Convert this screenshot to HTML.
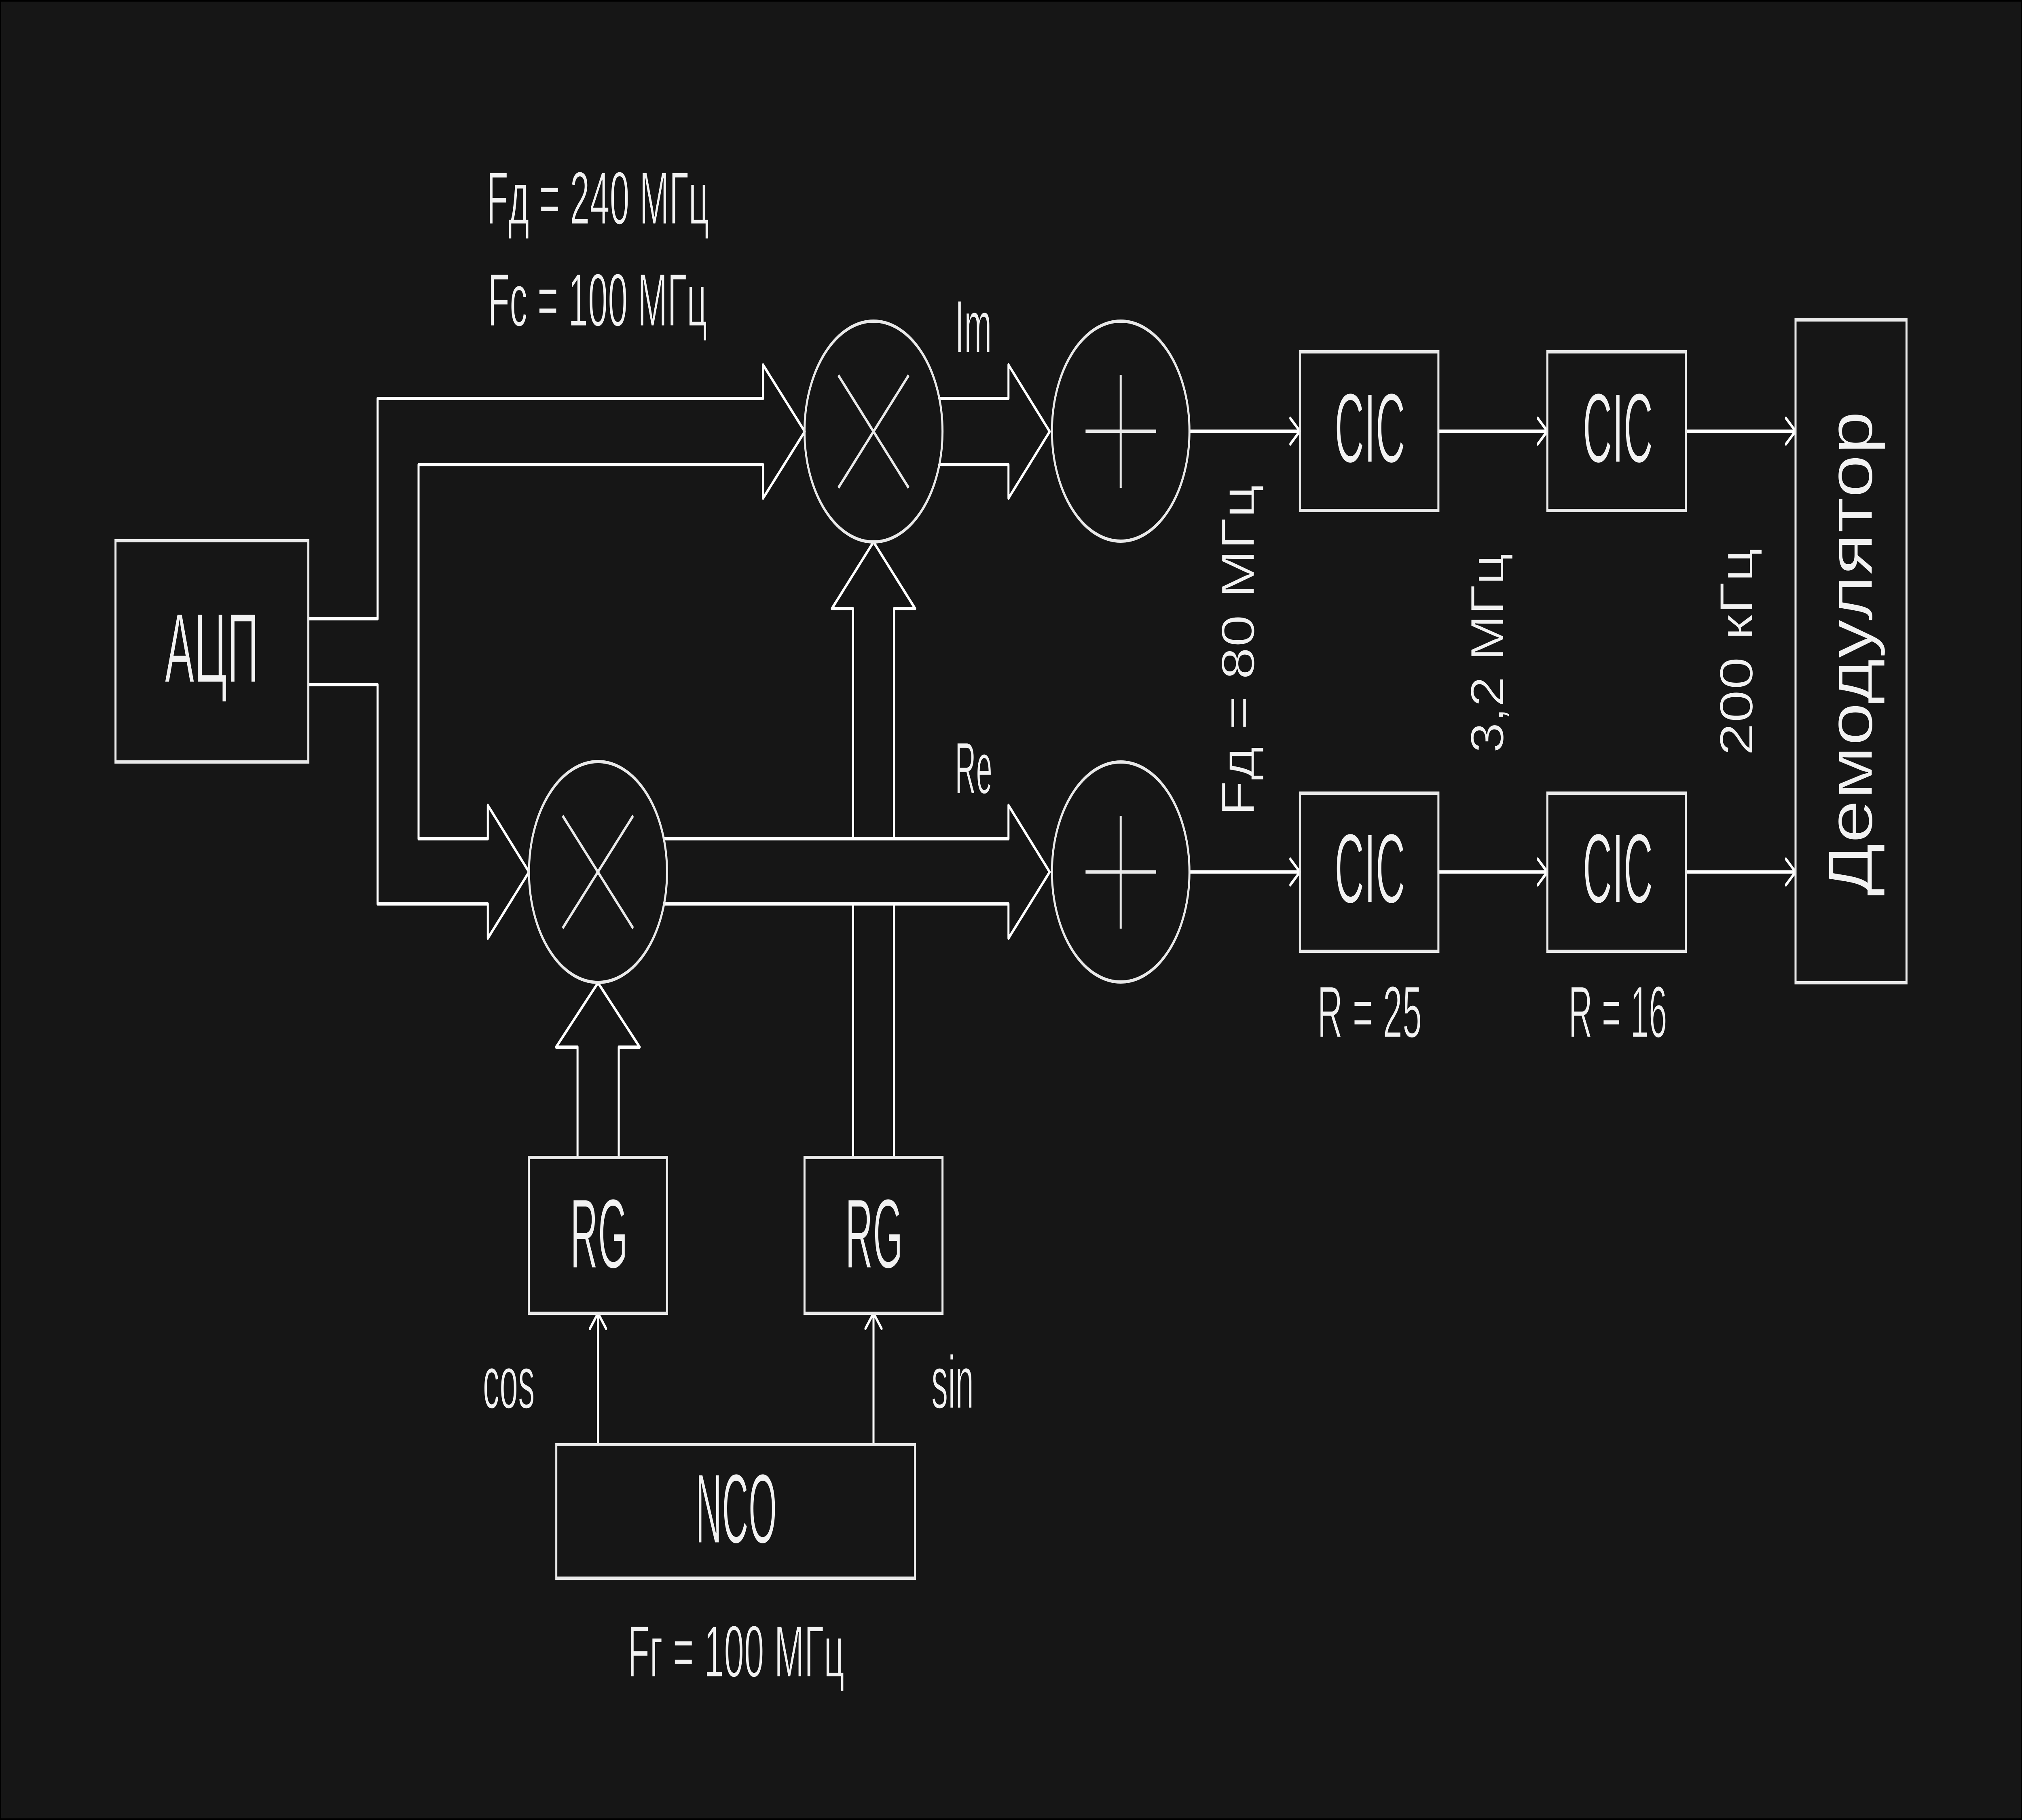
<!DOCTYPE html>
<html lang="ru">
<head>
<meta charset="utf-8">
<title>Диаграмма</title>
<style>
html,body{margin:0;padding:0;background:#000;width:100%;height:100%;overflow:hidden}
svg{display:block;width:100vw;height:100vh}
text{font-family:"Liberation Sans","DejaVu Sans",sans-serif;fill:#f2f2f2;stroke:#161616;stroke-width:3px}
.b{fill:none;stroke:#e9e9e9;stroke-width:8}
.w{fill:none;stroke:#fff;stroke-width:8;stroke-linejoin:round;stroke-linecap:round}
</style>
</head>
<body>
<svg xmlns="http://www.w3.org/2000/svg" viewBox="0 0 8000 4500" preserveAspectRatio="none">
<rect x="0" y="0" width="8000" height="4500" fill="#000"/>
<rect x="4" y="4" width="7992" height="4492" fill="#161616"/>

<!-- wide arrows -->
<path class="w" d="M1220 1530H1494V985H3019V902L3184 1067L3019 1232V1149H1656V2074H1930V1991L2093 2156L1930 2320V2235H1494V1693H1220"/>
<path class="w" d="M3716 985H3990V902L4153 1067L3990 1232V1149H3716"/>
<path class="w" d="M2626 2074H3990V1991L4153 2156L3990 2320V2235H2626"/>
<path class="w" d="M3375 2074V1505H3291L3456 1340L3621 1505H3537V2074"/>
<path class="w" d="M3375 2862V2235M3537 2862V2235"/>
<path class="w" d="M2285 2862V2589H2200L2366 2430L2531 2589H2448V2862"/>

<!-- thin arrows -->
<path class="w" d="M4707 1066H5143M5105 1034L5143 1066L5105 1098"/>
<path class="w" d="M5691 1066H6122M6084 1034L6122 1066L6084 1098"/>
<path class="w" d="M6670 1066H7104M7066 1034L7104 1066L7066 1098"/>
<path class="w" d="M4707 2156H5143M5105 2124L5143 2156L5105 2188"/>
<path class="w" d="M5691 2156H6122M6084 2124L6122 2156L6084 2188"/>
<path class="w" d="M6670 2156H7104M7066 2124L7104 2156L7066 2188"/>
<path class="w" d="M2366 3572V3247M2334 3285L2366 3247L2398 3285"/>
<path class="w" d="M3456 3572V3247M3424 3285L3456 3247L3488 3285"/>

<!-- boxes -->
<rect class="b" x="457" y="1337" width="763" height="547"/>
<rect class="b" x="5143" y="870" width="548" height="392"/>
<rect class="b" x="6122" y="870" width="548" height="392"/>
<rect class="b" x="5143" y="1961" width="548" height="391"/>
<rect class="b" x="6122" y="1961" width="548" height="391"/>
<rect class="b" x="7104" y="791" width="439" height="1639"/>
<rect class="b" x="2092" y="2862" width="547" height="385"/>
<rect class="b" x="3183" y="2862" width="546" height="385"/>
<rect class="b" x="2201" y="3572" width="1419" height="330"/>

<!-- circles -->
<circle class="b" cx="3456" cy="1067" r="273"/>
<circle class="b" cx="2366" cy="2156" r="273"/>
<circle class="b" cx="4434" cy="1066" r="272"/>
<circle class="b" cx="4434" cy="2156" r="272"/>

<path class="b" d="M3317 928L3595 1206M3595 928L3317 1206"/>
<path class="b" d="M2226 2017L2505 2295M2505 2017L2226 2295"/>
<path class="b" d="M4295 1066H4574M4434 927V1206"/>
<path class="b" d="M4295 2156H4574M4434 2017V2296"/>

<!-- labels -->
<text x="1925" y="554" font-size="186" textLength="880" lengthAdjust="spacingAndGlyphs">Fд = 240 МГц</text>
<text x="1930" y="806" font-size="186" textLength="868" lengthAdjust="spacingAndGlyphs">Fc = 100 МГц</text>
<text x="652" y="1687" font-size="245" textLength="372" lengthAdjust="spacingAndGlyphs">АЦП</text>
<text x="3778" y="872" font-size="186" textLength="146" lengthAdjust="spacingAndGlyphs">Im</text>
<text x="3778" y="1962" font-size="182" textLength="148" lengthAdjust="spacingAndGlyphs">Re</text>
<text x="5280" y="1143" font-size="245" textLength="280" lengthAdjust="spacingAndGlyphs">CIC</text>
<text x="6262" y="1143" font-size="245" textLength="278" lengthAdjust="spacingAndGlyphs">CIC</text>
<text x="5280" y="2232" font-size="245" textLength="280" lengthAdjust="spacingAndGlyphs">CIC</text>
<text x="6262" y="2232" font-size="245" textLength="278" lengthAdjust="spacingAndGlyphs">CIC</text>
<text x="5212" y="2565" font-size="182" textLength="414" lengthAdjust="spacingAndGlyphs">R = 25</text>
<text x="6206" y="2565" font-size="182" textLength="390" lengthAdjust="spacingAndGlyphs">R = 16</text>
<text x="2256" y="3135" font-size="245" textLength="228" lengthAdjust="spacingAndGlyphs">RG</text>
<text x="3344" y="3135" font-size="245" textLength="228" lengthAdjust="spacingAndGlyphs">RG</text>
<text x="2752" y="3815" font-size="245" textLength="322" lengthAdjust="spacingAndGlyphs">NCO</text>
<text x="1910" y="3482" font-size="186" textLength="206" lengthAdjust="spacingAndGlyphs">cos</text>
<text x="3685" y="3482" font-size="186" textLength="168" lengthAdjust="spacingAndGlyphs">sin</text>
<text x="2483" y="4146" font-size="182" textLength="858" lengthAdjust="spacingAndGlyphs">Fг = 100 МГц</text>
<text transform="translate(4962 2018) rotate(-90)" font-size="186" textLength="820" lengthAdjust="spacingAndGlyphs">Fд = 80 МГц</text>
<text transform="translate(5948 1862) rotate(-90)" font-size="186" textLength="494" lengthAdjust="spacingAndGlyphs">3,2 МГц</text>
<text transform="translate(6934 1869) rotate(-90)" font-size="186" textLength="514" lengthAdjust="spacingAndGlyphs">200 кГц</text>
<text transform="translate(7407 2216) rotate(-90)" font-size="250" textLength="1200" lengthAdjust="spacingAndGlyphs">Демодулятор</text>
</svg>
</body>
</html>
